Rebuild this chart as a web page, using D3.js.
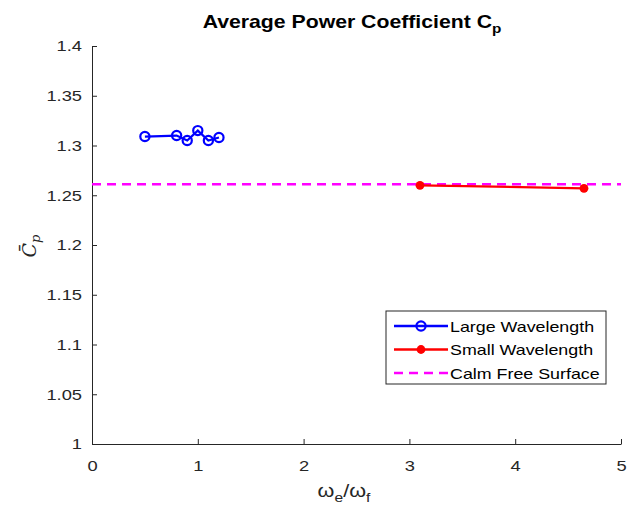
<!DOCTYPE html>
<html>
<head>
<meta charset="utf-8">
<script src="https://cdn.jsdelivr.net/npm/d3@7"></script>
<style>
  html, body { margin: 0; padding: 0; background: #fff; }
  svg { display: block; font-family: "Liberation Sans", Arial, sans-serif; }
</style>
</head>
<body>
<svg id="chart" width="627" height="516"></svg>
<script>
// Average power coefficient vs. frequency ratio
const largeX = [0.5, 0.8, 0.9, 1.0, 1.1, 1.2];
const largeY = [1.309, 1.310, 1.305, 1.315, 1.305, 1.308];
const smallX = [3.1, 4.65];
const smallY = [1.260, 1.257];
const calmCp = 1.261;
const xTicks = [0, 1, 2, 3, 4, 5];
const yTicks = [1, 1.05, 1.1, 1.15, 1.2, 1.25, 1.3, 1.35, 1.4];
const legendLabels = ["Large Wavelength", "Small Wavelength", "Calm Free Surface"];

const svg = d3.select("#chart");
const m = { left: 92, right: 6, top: 46, bottom: 72 };
const W = 627, H = 516;
const x = d3.scaleLinear().domain([0, 5]).range([m.left, W - m.right]);
const y = d3.scaleLinear().domain([1, 1.4]).range([H - m.bottom, m.top]);
const axisColor = "#262626";
const wide = 1.22; // horizontal text stretch

// widen a plain text node while keeping its anchor
function stretch(sel, f) {
  sel.each(function () {
    const w = this.getComputedTextLength();
    d3.select(this).attr("textLength", w * f).attr("lengthAdjust", "spacingAndGlyphs");
  });
}

// axes (ticks pointing inward)
const xAxis = svg.append("g").attr("transform", `translate(0,${y(1)})`)
  .call(d3.axisBottom(x).tickValues(xTicks).tickSizeInner(-5).tickSizeOuter(0).tickPadding(16).tickFormat(d3.format("d")));
const yAxis = svg.append("g").attr("transform", `translate(${x(0)},0)`)
  .call(d3.axisLeft(y).tickValues(yTicks).tickSizeInner(-5).tickSizeOuter(0).tickPadding(10).tickFormat(d => String(+d.toFixed(2))));
[xAxis, yAxis].forEach(g => {
  g.selectAll("path, line").attr("stroke", axisColor).attr("stroke-width", 1);
  g.selectAll("text").attr("fill", axisColor).attr("font-size", 15)
    .attr("font-family", "Liberation Sans, Arial, sans-serif");
  stretch(g.selectAll("text"), wide);
});

// calm free surface reference line
svg.append("line")
  .attr("x1", x(0)).attr("x2", x(5)).attr("y1", y(calmCp)).attr("y2", y(calmCp))
  .attr("stroke", "#ff00ff").attr("stroke-width", 2.5).attr("stroke-dasharray", "9,6");

const line = d3.line().x(d => x(d[0])).y(d => y(d[1]));
const large = largeX.map((v, i) => [v, largeY[i]]);
const small = smallX.map((v, i) => [v, smallY[i]]);

svg.append("path").datum(large).attr("d", line).attr("fill", "none")
  .attr("stroke", "#0000ff").attr("stroke-width", 2.2);
svg.selectAll(".lg").data(large).join("circle").attr("class", "lg")
  .attr("cx", d => x(d[0])).attr("cy", d => y(d[1])).attr("r", 4.6)
  .attr("fill", "none").attr("stroke", "#0000ff").attr("stroke-width", 2.2);

svg.append("path").datum(small).attr("d", line).attr("fill", "none")
  .attr("stroke", "#ff0000").attr("stroke-width", 2.2);
svg.selectAll(".sm").data(small).join("circle").attr("class", "sm")
  .attr("cx", d => x(d[0])).attr("cy", d => y(d[1])).attr("r", 4.4)
  .attr("fill", "#ff0000");

// title
const title = svg.append("g").attr("transform", "translate(352,28) scale(1.18,1)")
  .append("text").attr("text-anchor", "middle")
  .attr("font-size", 18).attr("font-weight", "bold").attr("fill", "#000");
title.append("tspan").text("Average Power Coefficient C");
title.append("tspan").attr("dy", 5).attr("font-size", 13).text("p");

// x label
const xl = svg.append("g").attr("transform", "translate(344,497) scale(1.2,1)")
  .append("text").attr("text-anchor", "middle")
  .attr("font-size", 18).attr("fill", axisColor);
xl.append("tspan").text("ω");
xl.append("tspan").attr("dy", 5).attr("font-size", 13).text("e");
xl.append("tspan").attr("dy", -5).text("/ω");
xl.append("tspan").attr("dy", 5).attr("font-size", 13).text("f");

// y label
const yl = svg.append("g").attr("transform", "translate(36,246) rotate(-90)");
const ylt = yl.append("text").attr("text-anchor", "middle").attr("font-size", 19)
  .attr("font-family", "DejaVu Serif, serif").attr("font-style", "italic").attr("fill", axisColor);
ylt.append("tspan").text("C\u0304");
ylt.append("tspan").attr("dy", 4).attr("font-size", 13).text("p");

// legend
const lg = svg.append("g").attr("transform", "translate(386,311)");
lg.append("rect").attr("width", 220).attr("height", 73).attr("fill", "#fff")
  .attr("stroke", axisColor).attr("stroke-width", 1);
const entries = [
  { color: "#0000ff", dash: null, marker: "open" },
  { color: "#ff0000", dash: null, marker: "dot" },
  { color: "#ff00ff", dash: "9,6", marker: null }
];
entries.forEach((e, i) => {
  const yy = 15 + i * 23.5;
  lg.append("line").attr("x1", 8).attr("x2", 62).attr("y1", yy).attr("y2", yy)
    .attr("stroke", e.color).attr("stroke-width", 2.5)
    .attr("stroke-dasharray", e.dash);
  if (e.marker === "open") {
    lg.append("circle").attr("cx", 35).attr("cy", yy).attr("r", 4.6)
      .attr("fill", "none").attr("stroke", e.color).attr("stroke-width", 2.2);
  } else if (e.marker === "dot") {
    lg.append("circle").attr("cx", 35).attr("cy", yy).attr("r", 4.4).attr("fill", e.color);
  }
  lg.append("g").attr("transform", `translate(64,${yy + 5.5}) scale(1.23,1)`)
    .append("text").attr("font-size", 14.5).attr("fill", "#000").text(legendLabels[i]);
});
</script>
</body>
</html>
